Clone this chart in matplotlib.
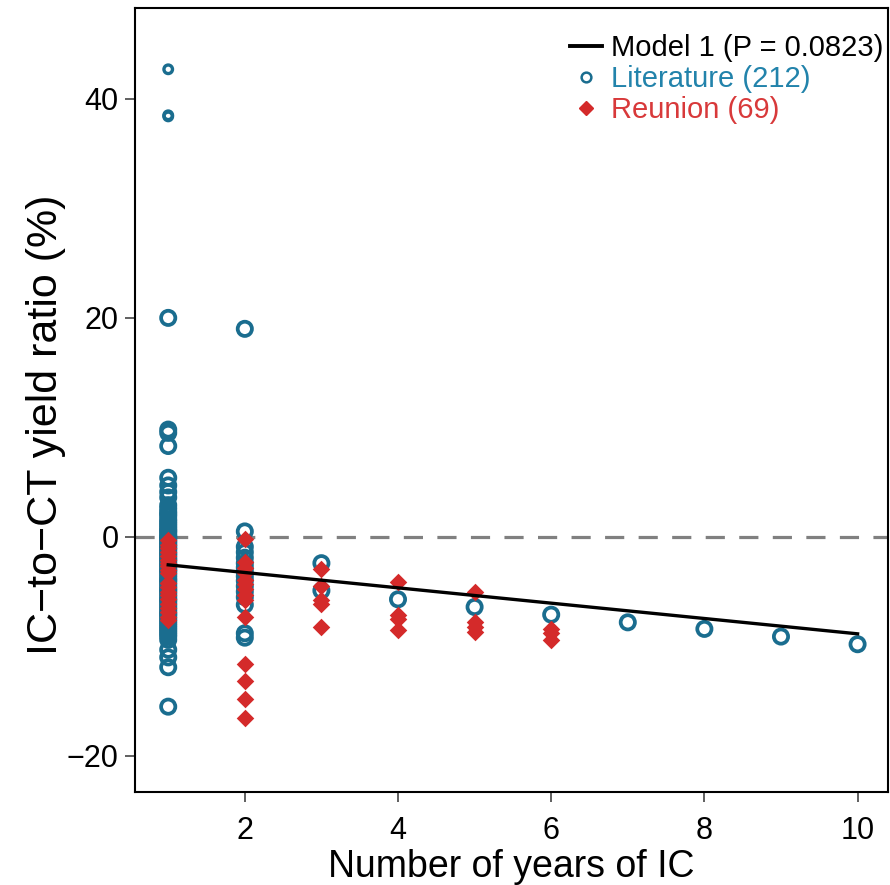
import matplotlib.pyplot as plt
from matplotlib.lines import Line2D

plt.rcParams['font.family'] = ['Liberation Sans', 'DejaVu Sans']

# literature studies, 1 year of IC
lit_y1 = [20.0, 9.8, 9.5, 8.3, 5.4, 4.7, 4.1, 3.6,
          2.9, 2.6, 2.3, 2.1, 1.9, 1.6, 1.4, 1.2, 1.0, 0.8, 0.6, 0.5,
          0.3, 0.1, 0.0, -0.1, -0.2, -0.4, -0.5, -0.7, -0.8, -1.0,
          -1.1, -1.3, -1.5, -1.6, -1.8, -2.0, -2.1, -2.3, -2.5, -2.6,
          -2.8, -3.0, -3.1, -3.3, -3.5, -3.7, -3.9, -4.0, -4.2, -4.4,
          -4.6, -4.8, -4.9, -5.1, -5.3, -5.5, -5.7, -5.8, -6.0, -6.2,
          -6.4, -6.6, -6.8, -7.0, -7.1, -7.3, -7.5, -7.7, -7.9, -8.1,
          -8.3, -8.5, -8.7, -8.9, -9.1, -9.4, -10.3, -11.0, -11.9, -15.5]
lit_y1_high = [42.7, 38.5, 38.4]   # drawn smaller
lit_y2 = [19.0, 0.5, -0.9, -1.4, -1.9, -2.4, -2.8, -3.2, -3.6, -4.0,
          -4.5, -5.0, -5.5, -6.2, -8.8, -9.2]
lit_y3 = [-2.4, -4.9]
lit_long_x = [4, 5, 6, 7, 8, 9, 10]
lit_long_y = [-5.7, -6.4, -7.1, -7.8, -8.4, -9.1, -9.8]

# Reunion trials
reu_y1 = [-0.3, -0.7, -1.0, -1.4, -1.7, -2.1, -2.4, -2.7, -3.0, -3.3,
          -4.2, -4.6, -5.0, -5.3, -5.7, -6.1, -6.5, -6.9, -7.3, -7.6]
reu_y2 = [-0.2, -2.3, -2.8, -3.3, -3.9, -4.3, -4.8, -5.3, -5.8, -7.3,
          -11.6, -13.2, -14.8, -16.5]
reu_y3 = [-2.9, -4.5, -5.8, -6.1, -8.2]
reu_y4 = [-4.1, -7.1, -7.5, -8.5]
reu_y5 = [-5.0, -7.8, -8.2, -8.7]
reu_y6 = [-8.4, -8.8, -9.4]

model_x = [1, 10]
model_y = [-2.55, -8.85]

blue = '#1a6d8f'
red = '#d42a2a'

fig = plt.figure(figsize=(8.9, 8.85), dpi=100)
ax = fig.add_axes([0.152, 0.105, 0.846, 0.886])

lit_x = [1]*len(lit_y1) + [2]*len(lit_y2) + [3]*len(lit_y3) + lit_long_x
lit_y = lit_y1 + lit_y2 + lit_y3 + lit_long_y
ax.scatter(lit_x, lit_y, s=105, facecolors='none', edgecolors=blue, linewidths=2.7, zorder=2)
ax.scatter([1]*len(lit_y1_high), lit_y1_high, s=38, facecolors='none', edgecolors=blue,
           linewidths=2.4, zorder=2)

reu_x = ([1]*len(reu_y1) + [2]*len(reu_y2) + [3]*len(reu_y3) + [4]*len(reu_y4)
         + [5]*len(reu_y5) + [6]*len(reu_y6))
reu_y = reu_y1 + reu_y2 + reu_y3 + reu_y4 + reu_y5 + reu_y6
ax.scatter(reu_x, reu_y, s=80, marker='D', color=red, linewidths=0, zorder=3)

ax.axhline(0, color='#808080', lw=2.3, ls=(0, (6, 4.5)), zorder=1.5)
ax.plot(model_x, model_y, color='black', lw=2.4, zorder=4)

ax.set_xlim(0.57, 10.4)
ax.set_ylim(-23.3, 48.3)
ax.set_xticks([2, 4, 6, 8, 10])
ax.set_yticks([-20, 0, 20, 40])
ax.tick_params(labelsize=22, length=7, width=1.2, color='#444444')
ax.tick_params(axis='y', pad=5)
ax.tick_params(axis='x', pad=10)
for s in ax.spines.values():
    s.set_linewidth(1.5)

ax.set_xlabel('Number of years of IC', fontsize=27)
ax.xaxis.set_label_coords(0.5, -0.073)
ax.set_ylabel('IC\u2212to\u2212CT yield ratio (%)', fontsize=31)
ax.yaxis.set_label_coords(-0.092, 0.468)

handles = [Line2D([], [], color='black', lw=2.8),
           Line2D([], [], ls='none', marker='o', ms=7, mfc='none', mec=blue, mew=1.8),
           Line2D([], [], ls='none', marker='D', ms=7, color=red)]
labels = ['Model 1 (P = 0.0823)', 'Literature (212)', 'Reunion (69)']
leg = ax.legend(handles, labels, loc='upper right', frameon=False, fontsize=21,
                handlelength=1.1, handletextpad=0.3, labelspacing=0.1,
                borderaxespad=0.1, bbox_to_anchor=(1.013, 0.985))
for t, c in zip(leg.get_texts(), ['black', '#2283ab', '#d8393a']):
    t.set_color(c)

fig.savefig('out.png', dpi=100)
